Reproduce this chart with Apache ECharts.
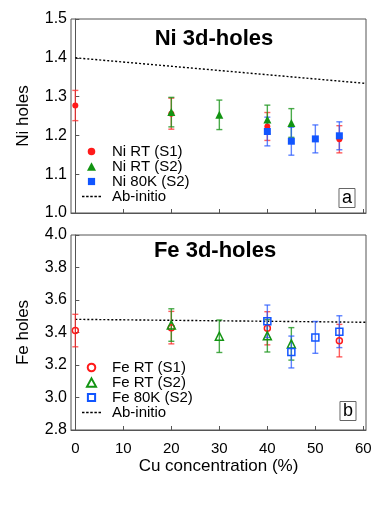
<!DOCTYPE html>
<html>
<head>
<meta charset="utf-8">
<script src="https://cdn.jsdelivr.net/npm/echarts@6/dist/echarts.min.js"></script>
<style>
html,body{margin:0;padding:0;background:#fff;}
#chart{width:390px;height:505px;}
</style>
</head>
<body>
<div id="chart"></div>
<script>
// ---- Data ----
const xTicks = [0, 10, 20, 30, 40, 50, 60];

// Ni 3d-holes (panel a)
const niS1X = [0, 20, 40, 55];
const niS1 = [1.277, 1.256, 1.223, 1.190];
const niS1Err = [0.039, 0.040, 0.036, 0.035];
const niS2X = [20, 30, 40, 45];
const niS2 = [1.260, 1.253, 1.241, 1.232];
const niS2Err = [0.038, 0.038, 0.037, 0.037];
const ni80X = [40, 45, 50, 55];
const ni80 = [1.210, 1.185, 1.191, 1.199];
const ni80Err = [0.037, 0.036, 0.036, 0.036];
const niAbX = [0, 60.5];
const niAb = [1.400, 1.334];

// Fe 3d-holes (panel b)
const feS1X = [0, 20, 40, 55];
const feS1 = [3.412, 3.430, 3.426, 3.350];
const feS1Err = [0.100, 0.100, 0.102, 0.100];
const feS2X = [20, 30, 40, 45];
const feS2 = [3.446, 3.377, 3.380, 3.330];
const feS2Err = [0.100, 0.100, 0.100, 0.100];
const fe80X = [40, 45, 50, 55];
const fe80 = [3.469, 3.280, 3.370, 3.405];
const fe80Err = [0.100, 0.098, 0.098, 0.098];
const feAbX = [0, 60.5];
const feAb = [3.481, 3.463];

const RED = '#ff1a1a', GREEN = '#129412', BLUE = '#1155ff';
const RED_E = 'rgba(255,40,40,0.75)', GREEN_E = 'rgba(30,150,30,0.8)', BLUE_E = 'rgba(40,90,255,0.75)';

// legend icon shapes (unit box 10x10, padded with move-to points)
const ICON_CIRCLE = 'path://M0,0M10,10M5,0.8A4.2,4.2,0,1,1,4.99,0.8Z';
const ICON_TRIANGLE = 'path://M0,0M10,10M5,0.4L10,9.6L0,9.6Z';
const ICON_SQUARE = 'path://M0,0M10,10M1,1H9V9H1Z';
const ICON_DOTS = 'path://M0,0h2.4v1.4h-2.4zM4,0h2.4v1.4h-2.4zM8,0h2.4v1.4h-2.4zM12,0h2.4v1.4h-2.4zM16,0h2.4v1.4h-2.4z';

function pts(xs, ys) { return xs.map((x, i) => [x, ys[i]]); }
function errPts(xs, ys, es) { return xs.map((x, i) => [x, ys[i], es[i]]); }

function errRender(color) {
  return function (params, api) {
    const x = api.value(0), y = api.value(1), e = api.value(2);
    const t = api.coord([x, y + e]);
    const b = api.coord([x, y - e]);
    const w = 3;
    const st = { stroke: color, lineWidth: 1.4 };
    return {
      type: 'group',
      children: [
        { type: 'line', shape: { x1: t[0], y1: t[1], x2: b[0], y2: b[1] }, style: st },
        { type: 'line', shape: { x1: t[0] - w, y1: t[1], x2: t[0] + w, y2: t[1] }, style: st },
        { type: 'line', shape: { x1: b[0] - w, y1: b[1], x2: b[0] + w, y2: b[1] }, style: st }
      ]
    };
  };
}

function errSeries(name, idx, data, color) {
  return {
    name: name, type: 'custom', xAxisIndex: idx, yAxisIndex: idx,
    renderItem: errRender(color), data: data, z: 2, silent: true,
    encode: { x: 0, y: [1] }
  };
}

const FONT = 'Liberation Sans, Arial, Helvetica, sans-serif';
const AXC = '#555';

function xAxisDef(idx, showLabels) {
  return {
    type: 'value', gridIndex: idx, min: -0.9, max: 60.55,
    axisLine: { show: true, lineStyle: { color: AXC, width: 1 } },
    axisTick: { show: true, inside: true, length: 4, customValues: xTicks, lineStyle: { color: AXC } },
    axisLabel: {
      show: showLabels, customValues: xTicks, color: '#000', fontSize: 15,
      fontFamily: FONT, margin: 11
    },
    splitLine: { show: false },
    name: showLabels ? 'Cu concentration (%)' : '',
    nameLocation: 'middle', nameGap: 28,
    nameTextStyle: { color: '#000', fontSize: 17, fontFamily: FONT }
  };
}

function yAxisDef(idx, min, max, interval, name) {
  return {
    type: 'value', gridIndex: idx, min: min, max: max, interval: interval,
    axisLine: { show: true, lineStyle: { color: AXC, width: 1 } },
    axisTick: { show: true, inside: true, length: 4, lineStyle: { color: AXC } },
    axisLabel: {
      color: '#000', fontSize: 16, fontFamily: FONT, margin: 4,
      formatter: v => v.toFixed(1)
    },
    splitLine: { show: false },
    name: name, nameLocation: 'middle', nameGap: 39,
    nameTextStyle: { color: '#000', fontSize: 17, fontFamily: FONT }
  };
}

function legendDef(top, names) {
  return {
    orient: 'vertical', left: 82, top: top, padding: 0,
    itemWidth: 19, itemHeight: 9, itemGap: 0,
    symbolKeepAspect: true, selectedMode: false,
    textStyle: { fontSize: 15, color: '#000', fontFamily: FONT, padding: [0, 0, 0, 6], lineHeight: 15 },
    data: [
      { name: names[0], icon: ICON_CIRCLE },
      { name: names[1], icon: ICON_TRIANGLE },
      { name: names[2], icon: ICON_SQUARE },
      { name: 'Ab-initio', icon: ICON_DOTS }
    ]
  };
}

const chart = echarts.init(document.getElementById('chart'), null, { renderer: 'canvas' });

const option = {
  backgroundColor: '#fff',
  animation: false,
  textStyle: { fontFamily: FONT },
  grid: [
    { left: 71, right: 24, top: 19, height: 194, show: true, borderColor: AXC, borderWidth: 1, backgroundColor: 'transparent' },
    { left: 71, right: 24, top: 235, height: 195, show: true, borderColor: AXC, borderWidth: 1, backgroundColor: 'transparent' }
  ],
  xAxis: [xAxisDef(0, false), xAxisDef(1, true)],
  yAxis: [
    yAxisDef(0, 1.0, 1.5, 0.1, 'Ni holes'),
    yAxisDef(1, 2.8, 4.0, 0.2, 'Fe holes')
  ],
  legend: [
    legendDef(144, ['Ni RT (S1)', 'Ni RT (S2)', 'Ni 80K (S2)']),
    legendDef(360, ['Fe RT (S1)', 'Fe RT (S2)', 'Fe 80K (S2)'])
  ],
  graphic: [
    { type: 'text', x: 214, y: 39, style: { text: 'Ni 3d-holes', font: 'bold 22px ' + FONT, fill: '#000', textAlign: 'center', textVerticalAlign: 'middle' }, z: 10 },
    { type: 'text', x: 215, y: 251, style: { text: 'Fe 3d-holes', font: 'bold 22px ' + FONT, fill: '#000', textAlign: 'center', textVerticalAlign: 'middle' }, z: 10 },
    { type: 'text', x: 347, y: 198, style: { text: 'a', font: '18px ' + FONT, fill: '#000', textAlign: 'center', textVerticalAlign: 'middle', borderColor: '#666', borderWidth: 1, padding: [0, 3, 1, 3] }, z: 10 },
    { type: 'text', x: 348, y: 411, style: { text: 'b', font: '18px ' + FONT, fill: '#000', textAlign: 'center', textVerticalAlign: 'middle', borderColor: '#666', borderWidth: 1, padding: [0, 3, 1, 3] }, z: 10 }
  ],
  series: [
    // Panel a
    { name: 'Ab-initio', type: 'line', xAxisIndex: 0, yAxisIndex: 0, data: pts(niAbX, niAb), symbol: 'none',
      lineStyle: { color: '#000', width: 1.4, type: [2, 2] }, itemStyle: { color: '#000' }, z: 1, silent: true },
    errSeries('err1', 0, errPts(niS1X, niS1, niS1Err), RED_E),
    errSeries('err2', 0, errPts(niS2X, niS2, niS2Err), GREEN_E),
    errSeries('err3', 0, errPts(ni80X, ni80, ni80Err), BLUE_E),
    { name: 'Ni RT (S1)', type: 'scatter', xAxisIndex: 0, yAxisIndex: 0, data: pts(niS1X, niS1),
      symbol: 'circle', symbolSize: 6, itemStyle: { color: RED, opacity: 1 }, z: 3 },
    { name: 'Ni RT (S2)', type: 'scatter', xAxisIndex: 0, yAxisIndex: 0, data: pts(niS2X, niS2),
      symbol: 'triangle', symbolSize: 8, itemStyle: { color: GREEN, opacity: 1 }, z: 3 },
    { name: 'Ni 80K (S2)', type: 'scatter', xAxisIndex: 0, yAxisIndex: 0, data: pts(ni80X, ni80),
      symbol: 'rect', symbolSize: 7, itemStyle: { color: BLUE, opacity: 1 }, z: 3 },
    // Panel b
    { name: 'Ab-initio', type: 'line', xAxisIndex: 1, yAxisIndex: 1, data: pts(feAbX, feAb), symbol: 'none',
      lineStyle: { color: '#000', width: 1.4, type: [2, 2] }, itemStyle: { color: '#000' }, z: 1, silent: true },
    errSeries('err4', 1, errPts(feS1X, feS1, feS1Err), RED_E),
    errSeries('err5', 1, errPts(feS2X, feS2, feS2Err), GREEN_E),
    errSeries('err6', 1, errPts(fe80X, fe80, fe80Err), BLUE_E),
    { name: 'Fe RT (S1)', type: 'scatter', xAxisIndex: 1, yAxisIndex: 1, data: pts(feS1X, feS1),
      symbol: 'circle', symbolSize: 6, itemStyle: { color: 'rgba(255,255,255,0)', borderColor: RED, borderWidth: 1.5, opacity: 1 }, z: 3 },
    { name: 'Fe RT (S2)', type: 'scatter', xAxisIndex: 1, yAxisIndex: 1, data: pts(feS2X, feS2),
      symbol: 'triangle', symbolSize: 8, itemStyle: { color: 'rgba(255,255,255,0)', borderColor: GREEN, borderWidth: 1.5, opacity: 1 }, z: 3 },
    { name: 'Fe 80K (S2)', type: 'scatter', xAxisIndex: 1, yAxisIndex: 1, data: pts(fe80X, fe80),
      symbol: 'rect', symbolSize: 7, itemStyle: { color: 'rgba(255,255,255,0)', borderColor: BLUE, borderWidth: 1.5, opacity: 1 }, z: 3 }
  ]
};

chart.setOption(option);
</script>
</body>
</html>
